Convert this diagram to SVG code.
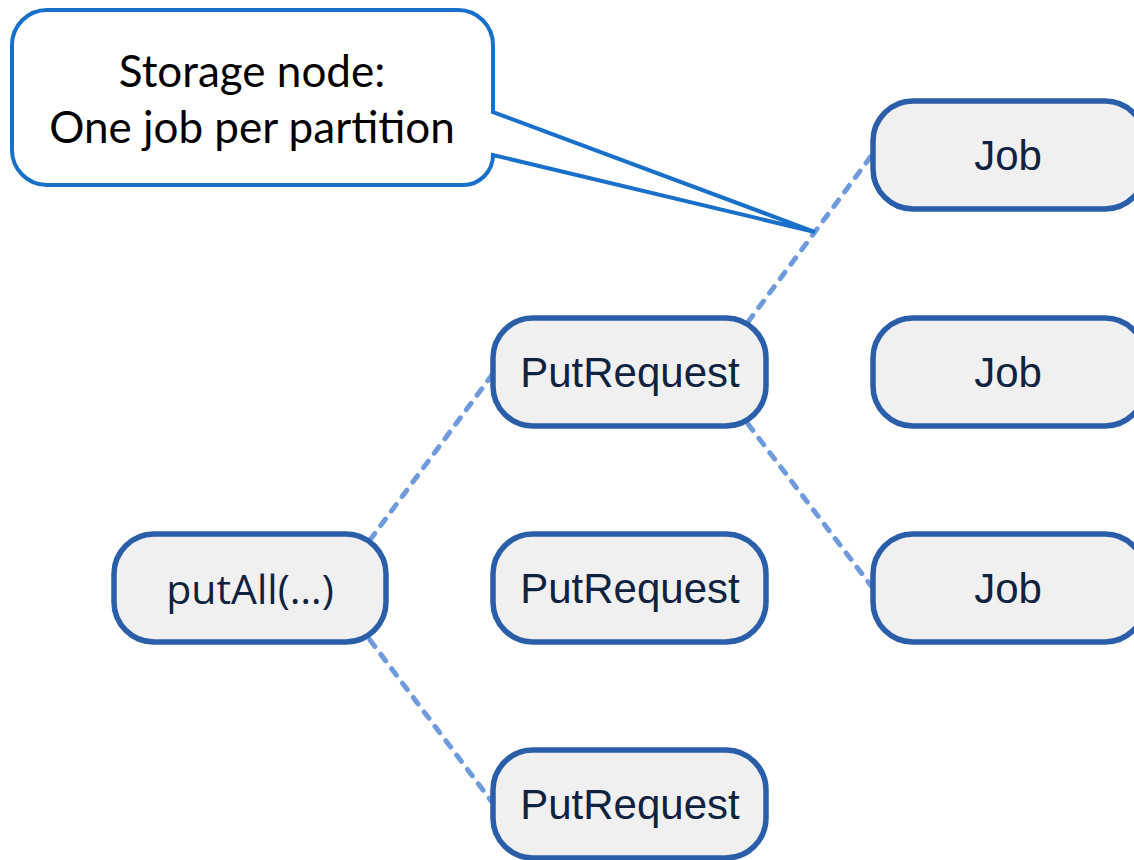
<svg xmlns="http://www.w3.org/2000/svg" width="1134" height="860" viewBox="0 0 1134 860">
<style>
.node rect{fill:#f0f0f0;stroke:#2a5ea8;stroke-width:5.5}
.node text{font-family:"Liberation Sans",Arial,sans-serif;font-size:42px;fill:#0f2340;text-anchor:middle;dominant-baseline:central}
.conn line{stroke:#6f9bdc;stroke-width:5;stroke-dasharray:8 10;stroke-linecap:round}
.callout text{font-family:"Lato","Open Sans",sans-serif;font-size:44px;fill:#000;text-anchor:middle}
</style>
<rect width="1134" height="860" fill="#fff"/>
<g class="conn" id="connectors">
<line x1="370" y1="540" x2="492" y2="375"/>
<line x1="370" y1="640" x2="492" y2="802"/>
<line x1="748" y1="322" x2="872" y2="155"/>
<line x1="748" y1="424" x2="872" y2="587"/>
</g>
<g id="putAll" class="node"><rect x="114" y="534" width="272" height="108" rx="40"/><text x="250" y="588" style="font-family:'Open Sans','Noto Sans',sans-serif;font-size:41px">putAll(…)</text></g>
<g id="put1" class="node"><rect x="493" y="318" width="273" height="108" rx="40"/><text x="630" y="372">PutRequest</text></g>
<g id="put2" class="node"><rect x="493" y="534" width="273" height="108" rx="40"/><text x="630" y="588">PutRequest</text></g>
<g id="put3" class="node"><rect x="493" y="750" width="273" height="108" rx="40"/><text x="630" y="804">PutRequest</text></g>
<g id="job1" class="node"><rect x="873" y="101" width="272" height="108" rx="40"/><text x="1008" y="155">Job</text></g>
<g id="job2" class="node"><rect x="873" y="318" width="272" height="108" rx="40"/><text x="1008" y="372">Job</text></g>
<g id="job3" class="node"><rect x="873" y="534" width="272" height="108" rx="40"/><text x="1008" y="588">Job</text></g>
<g id="callout" class="callout">
<path d="M47,10 H458 A35,35 0 0 1 493,45 V112 L815,232 L493,155 A30,30 0 0 1 463,185 H47 A35,35 0 0 1 12,150 V45 A35,35 0 0 1 47,10 Z" fill="#fff" stroke="#1870c8" stroke-width="4" stroke-linejoin="miter"/>
<text x="252" y="87">Storage node:</text>
<text x="252" y="143">One job per partition</text>
</g>
</svg>
